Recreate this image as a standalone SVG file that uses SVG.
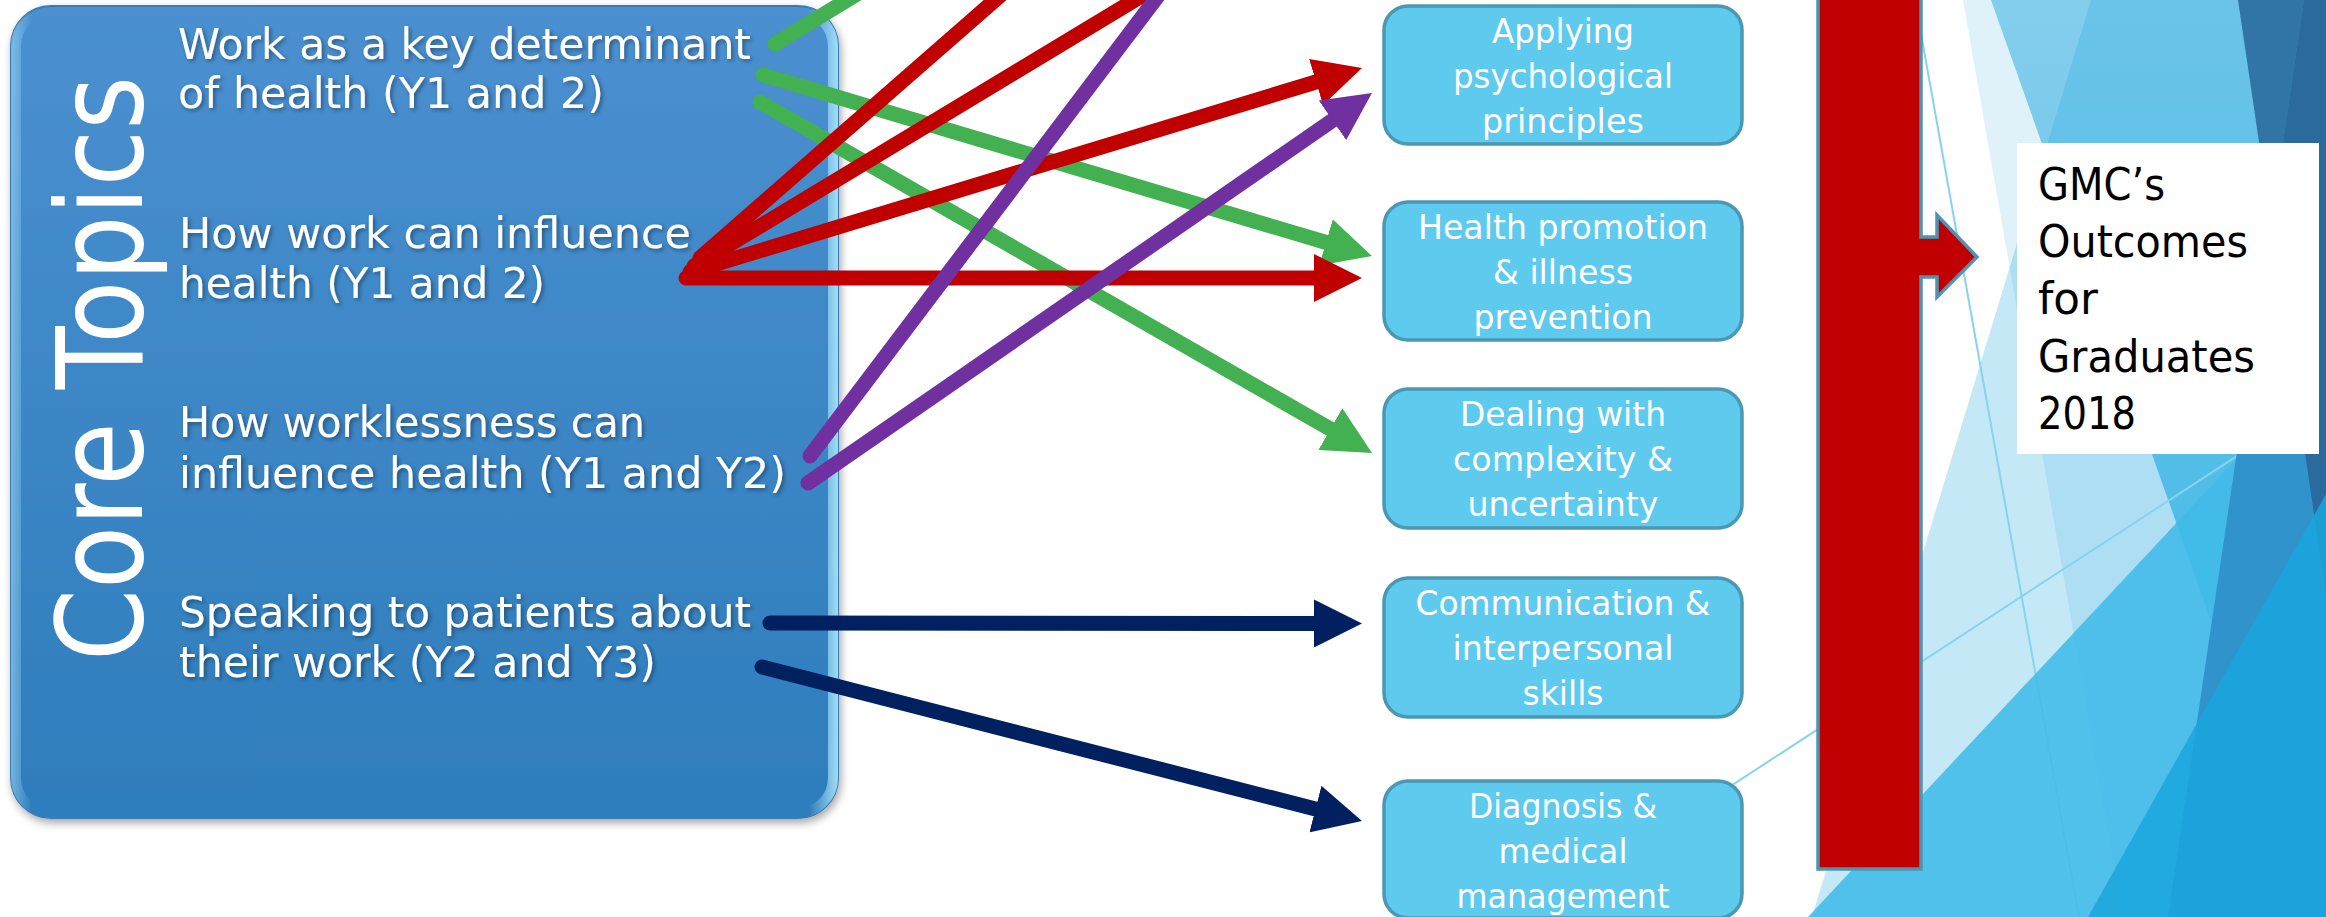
<svg xmlns="http://www.w3.org/2000/svg" width="2326" height="917" viewBox="0 0 2326 917">
<defs>
<style>
.lt{font-family:"DejaVu Sans",sans-serif;font-size:42px;fill:#ffffff;filter:url(#tshadow)}
.bt{font-family:"DejaVu Sans",sans-serif;font-size:34px;fill:#ffffff;text-anchor:middle}
.gt{font-family:"DejaVu Sans",sans-serif;font-size:44px;fill:#000000}
.obox{fill:#5ECAEE;stroke:#4A98B3;stroke-width:3.5}
.con{fill:none;stroke-width:15;stroke-linecap:round}
.thin{stroke:#86D3EF;stroke-width:2;fill:none}
</style>
<linearGradient id="boxGrad" x1="0" y1="0" x2="0" y2="1">
<stop offset="0" stop-color="#4B90D0"/>
<stop offset="1" stop-color="#2E7DBC"/>
</linearGradient>
<linearGradient id="bevel" gradientUnits="userSpaceOnUse" x1="11" y1="0" x2="838" y2="0">
<stop offset="0" stop-color="#A5E2FA" stop-opacity="0.55"/>
<stop offset="0.025" stop-color="#A5E2FA" stop-opacity="0"/>
<stop offset="0.965" stop-color="#A5E2FA" stop-opacity="0"/>
<stop offset="1" stop-color="#A5E2FA" stop-opacity="0.95"/>
</linearGradient>
<linearGradient id="l2grad" x1="0" y1="0" x2="0" y2="1">
<stop offset="0" stop-color="#29A9E0" stop-opacity="0.5"/>
<stop offset="1" stop-color="#1CAFE3" stop-opacity="0.8"/>
</linearGradient>
<filter id="shadow" x="-5%" y="-5%" width="110%" height="110%">
<feDropShadow dx="2" dy="4" stdDeviation="4" flood-color="#000" flood-opacity="0.35"/>
</filter>
<filter id="tshadow" x="-5%" y="-30%" width="110%" height="160%">
<feDropShadow dx="2" dy="2" stdDeviation="2" flood-color="#000" flood-opacity="0.4"/>
</filter>
<marker id="mG" markerUnits="userSpaceOnUse" viewBox="0 0 48 48" markerWidth="48" markerHeight="48" refX="18" refY="24" orient="auto"><path d="M0,0 L48,24 L0,48 z" fill="#43B051"/></marker>
<marker id="mR" markerUnits="userSpaceOnUse" viewBox="0 0 48 48" markerWidth="48" markerHeight="48" refX="18" refY="24" orient="auto"><path d="M0,0 L48,24 L0,48 z" fill="#C00000"/></marker>
<marker id="mP" markerUnits="userSpaceOnUse" viewBox="0 0 48 48" markerWidth="48" markerHeight="48" refX="18" refY="24" orient="auto"><path d="M0,0 L48,24 L0,48 z" fill="#7030A0"/></marker>
<marker id="mN" markerUnits="userSpaceOnUse" viewBox="0 0 48 48" markerWidth="48" markerHeight="48" refX="18" refY="24" orient="auto"><path d="M0,0 L48,24 L0,48 z" fill="#002060"/></marker>
</defs>
<rect x="0" y="0" width="2326" height="917" fill="#ffffff"/>
<g id="background">
<polygon points="1963,0 2326,0 2326,917 2123,917" fill="#29A9E0" fill-opacity="0.15"/>
<polygon points="2091,0 2326,0 2326,917 1812,917" fill="#29A9E0" fill-opacity="0.27"/>
<polygon points="1991,0 2326,0 2326,917 2316,917" fill="url(#l2grad)"/>
<line class="thin" x1="1384" y1="1012" x2="2326" y2="398"/>
<line class="thin" x1="1915" y1="0" x2="2079" y2="917"/>
<polygon points="1808,917 2326,363 2326,917" fill="#40BBE8" fill-opacity="0.88"/>
<polygon points="2238,0 2326,0 2326,595" fill="#3075A5"/>
<polygon points="2304,0 2326,0 2326,917 2168,917" fill="#3193CC"/>
<polygon points="2304,0 2326,0 2326,595 2271,223" fill="#2B6A9C"/>
<polygon points="2326,494 2326,917 2088,917" fill="#1AA6DD" fill-opacity="0.85"/>
</g>
<g id="core-topics">
<rect x="11" y="6" width="827" height="812" rx="40" fill="url(#boxGrad)" stroke="#3A7BB5" stroke-width="2" filter="url(#shadow)"/>
<rect x="16" y="11" width="817" height="802" rx="35" fill="none" stroke="url(#bevel)" stroke-width="10"/>
<text transform="translate(142,661) rotate(-90) scale(0.86,1)" x="0" y="0" font-family="DejaVu Sans, sans-serif" font-size="120" fill="#ffffff">Core Topics</text>
<text class="lt" x="178" y="59" textLength="573" lengthAdjust="spacingAndGlyphs">Work as a key determinant</text>
<text class="lt" x="178" y="108" textLength="426" lengthAdjust="spacingAndGlyphs">of health (Y1 and 2)</text>
<text class="lt" x="179" y="248" textLength="512" lengthAdjust="spacingAndGlyphs">How work can influence</text>
<text class="lt" x="179" y="298" textLength="366" lengthAdjust="spacingAndGlyphs">health (Y1 and 2)</text>
<text class="lt" x="179" y="437" textLength="466" lengthAdjust="spacingAndGlyphs">How worklessness can</text>
<text class="lt" x="179" y="488" textLength="607" lengthAdjust="spacingAndGlyphs">influence health (Y1 and Y2)</text>
<text class="lt" x="179" y="627" textLength="572" lengthAdjust="spacingAndGlyphs">Speaking to patients about</text>
<text class="lt" x="179" y="677" textLength="477" lengthAdjust="spacingAndGlyphs">their work (Y2 and Y3)</text>
</g>
<g id="connectors">
<line class="con" stroke="#43B051" x1="775" y1="44" x2="880" y2="-20"/>
<line class="con" stroke="#43B051" x1="763" y1="75" x2="1343.2" y2="247.5" marker-end="url(#mG)"/>
<line class="con" stroke="#43B051" x1="760" y1="102" x2="1346" y2="438.1" marker-end="url(#mG)"/>
<line class="con" stroke="#C00000" x1="700" y1="258" x2="1018" y2="-20"/>
<line class="con" stroke="#C00000" x1="694" y1="266" x2="1168" y2="-20"/>
<line class="con" stroke="#C00000" x1="690" y1="272" x2="1333.3" y2="76.7" marker-end="url(#mR)"/>
<line class="con" stroke="#C00000" x1="686" y1="278" x2="1332" y2="278" marker-end="url(#mR)"/>
<line class="con" stroke="#7030A0" x1="810" y1="456" x2="1170" y2="-20"/>
<line class="con" stroke="#7030A0" x1="808" y1="483" x2="1347.3" y2="110.1" marker-end="url(#mP)"/>
<line class="con" stroke="#002060" x1="770" y1="623" x2="1332" y2="623.5" marker-end="url(#mN)"/>
<line class="con" stroke="#002060" x1="762" y1="667" x2="1332.9" y2="813.5" marker-end="url(#mN)"/>
</g>
<g id="box-applying">
<rect class="obox" x="1384" y="6" width="358" height="138" rx="24"/>
<text class="bt" x="1563" y="43" textLength="142" lengthAdjust="spacingAndGlyphs">Applying</text>
<text class="bt" x="1563" y="88" textLength="220" lengthAdjust="spacingAndGlyphs">psychological</text>
<text class="bt" x="1563" y="133" textLength="162" lengthAdjust="spacingAndGlyphs">principles</text>
</g>
<g id="box-health">
<rect class="obox" x="1384" y="202" width="358" height="138" rx="24"/>
<text class="bt" x="1563" y="239" textLength="290" lengthAdjust="spacingAndGlyphs">Health promotion</text>
<text class="bt" x="1563" y="284" textLength="140" lengthAdjust="spacingAndGlyphs">&amp; illness</text>
<text class="bt" x="1563" y="329" textLength="179" lengthAdjust="spacingAndGlyphs">prevention</text>
</g>
<g id="box-complexity">
<rect class="obox" x="1384" y="389" width="358" height="139" rx="24"/>
<text class="bt" x="1563" y="426" textLength="206" lengthAdjust="spacingAndGlyphs">Dealing with</text>
<text class="bt" x="1563" y="471" textLength="220" lengthAdjust="spacingAndGlyphs">complexity &amp;</text>
<text class="bt" x="1563" y="516" textLength="191" lengthAdjust="spacingAndGlyphs">uncertainty</text>
</g>
<g id="box-communication">
<rect class="obox" x="1384" y="578" width="358" height="139" rx="24"/>
<text class="bt" x="1563" y="615" textLength="295" lengthAdjust="spacingAndGlyphs">Communication &amp;</text>
<text class="bt" x="1563" y="660" textLength="221" lengthAdjust="spacingAndGlyphs">interpersonal</text>
<text class="bt" x="1563" y="705" textLength="81" lengthAdjust="spacingAndGlyphs">skills</text>
</g>
<g id="box-diagnosis">
<rect class="obox" x="1384" y="781" width="358" height="137" rx="24"/>
<text class="bt" x="1563" y="818" textLength="188" lengthAdjust="spacingAndGlyphs">Diagnosis &amp;</text>
<text class="bt" x="1563" y="863" textLength="129" lengthAdjust="spacingAndGlyphs">medical</text>
<text class="bt" x="1563" y="908" textLength="213" lengthAdjust="spacingAndGlyphs">management</text>
</g>
<g id="red-bar-arrow">
<path d="M1818,-5 L1921,-5 L1921,237 L1937,237 L1937,215 L1977,257 L1937,297 L1937,277 L1921,277 L1921,869 L1818,869 Z" fill="#C00000" stroke="#4E94B2" stroke-width="3.5" stroke-linejoin="miter"/>
</g>
<g id="gmc-outcomes">
<rect x="2017" y="143" width="302" height="311" fill="#ffffff"/>
<text class="gt" x="2038" y="200" textLength="127" lengthAdjust="spacingAndGlyphs">GMC’s</text>
<text class="gt" x="2038" y="257" textLength="210" lengthAdjust="spacingAndGlyphs">Outcomes</text>
<text class="gt" x="2038" y="314" textLength="60" lengthAdjust="spacingAndGlyphs">for</text>
<text class="gt" x="2038" y="372" textLength="217" lengthAdjust="spacingAndGlyphs">Graduates</text>
<text class="gt" x="2038" y="429" textLength="98" lengthAdjust="spacingAndGlyphs">2018</text>
</g>
</svg>
